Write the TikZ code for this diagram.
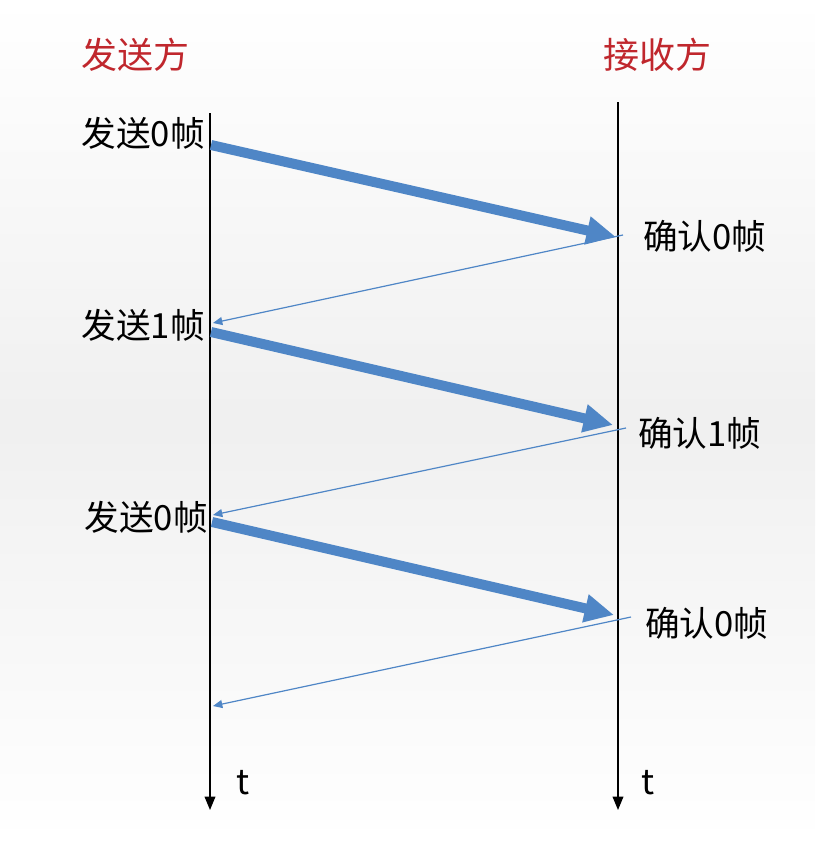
\documentclass[tikz,border=0pt]{standalone}
\usepackage{fontspec}
\setmainfont{Noto Sans CJK SC}
\usetikzlibrary{arrows.meta}
\definecolor{flowblue}{RGB}{79,134,198}
\definecolor{headred}{RGB}{192,39,45}
\begin{document}
\begin{tikzpicture}[x=0.75pt,y=-0.75pt,
  timeline/.style={black,line width=1pt,-{Triangle[length=10pt,width=8pt]}},
  dataarrow/.style={flowblue,line width=7.5pt,-{Triangle[length=22pt,width=20pt]}},
  ackarrow/.style={flowblue,line width=0.9pt,-{Triangle[length=7pt,width=6pt]}},
  lbl/.style={inner sep=0pt,font=\fontsize{26}{30}\selectfont},
  head/.style={inner sep=0pt,text=headred,font=\fontsize{27}{31}\selectfont}]
\shade[top color=white,bottom color=white,middle color=black!6] (0,0) rectangle (815,842);
\useasboundingbox (0,0) rectangle (815,842);
% timelines
\coordinate (Ltop) at (210,113);
\coordinate (Lbot) at (210,810);
\coordinate (Rtop) at (618,102);
\coordinate (Rbot) at (618,810);
\draw[timeline] (Ltop) -- (Lbot);
\draw[timeline] (Rtop) -- (Rbot);
% headers
\node[head] (sender) at (135,55) {发送方};
\node[head] (receiver) at (657,55) {接收方};
% labels
\node[lbl,anchor=east] (s0) at (205,133) {发送0帧};
\node[lbl,anchor=east] (s1) at (205,325) {发送1帧};
\node[lbl,anchor=east] (s2) at (208,517) {发送0帧};
\node[lbl,anchor=west] (r0) at (643,236) {确认0帧};
\node[lbl,anchor=west] (r1) at (638,433) {确认1帧};
\node[lbl,anchor=west] (r2) at (645,623) {确认0帧};
\node[lbl] (tl) at (243,783) {t};
\node[lbl] (tr) at (648,783) {t};
% arrow end points
\coordinate (a1s) at (211,145);
\coordinate (a1e) at (616,237);
\coordinate (b1s) at (623,235);
\coordinate (b1e) at (213,323);
\coordinate (a2s) at (211,332);
\coordinate (a2e) at (613,425);
\coordinate (b2s) at (626,428);
\coordinate (b2e) at (213,515);
\coordinate (a3s) at (212,522);
\coordinate (a3e) at (614,615);
\coordinate (b3s) at (631,617);
\coordinate (b3e) at (213,706);
\draw[dataarrow] (a1s) -- (a1e);
\draw[ackarrow] (b1s) -- (b1e);
\draw[dataarrow] (a2s) -- (a2e);
\draw[ackarrow] (b2s) -- (b2e);
\draw[dataarrow] (a3s) -- (a3e);
\draw[ackarrow] (b3s) -- (b3e);
\end{tikzpicture}
\end{document}
